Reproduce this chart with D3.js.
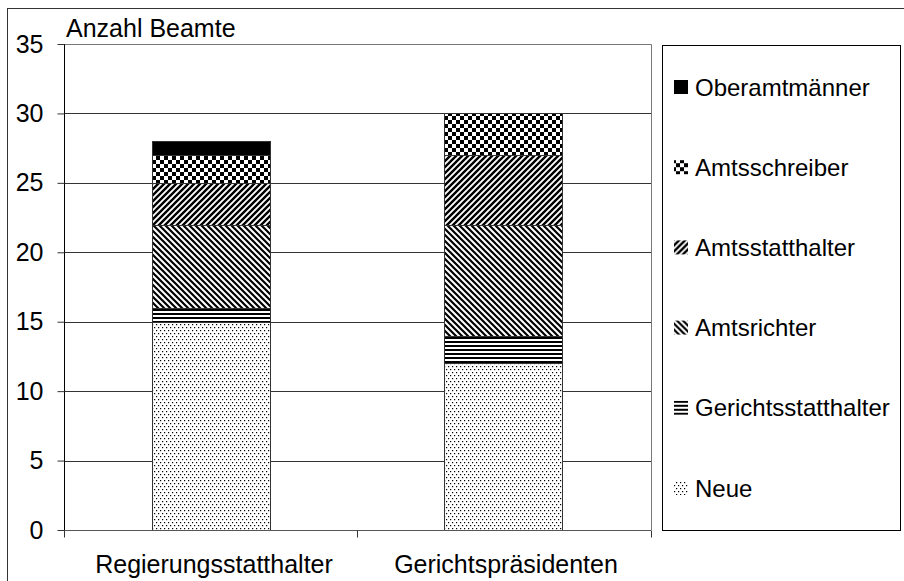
<!DOCTYPE html>
<html><head><meta charset="utf-8">
<script src="https://cdn.jsdelivr.net/npm/d3@7"></script>
<style>html,body{margin:0;padding:0;background:#fff;}svg{display:block;font-family:"Liberation Sans",Arial,sans-serif;}</style>
</head><body>
<svg id="c" width="904" height="581"></svg>
<script>
const categories = ["Regierungsstatthalter", "Gerichtspräsidenten"];
const seriesNames = ["Neue", "Gerichtsstatthalter", "Amtsrichter", "Amtsstatthalter", "Amtsschreiber", "Oberamtmänner"];
const neue = [15, 12];
const gerichtsstatthalter = [1, 2];
const amtsrichter = [6, 8];
const amtsstatthalter = [3, 5];
const amtsschreiber = [2, 3];
const oberamtmaenner = [1, 0];
const yTicks = [0, 5, 10, 15, 20, 25, 30, 35];
const yTitle = "Anzahl Beamte";

const seriesValues = [neue, gerichtsstatthalter, amtsrichter, amtsstatthalter, amtsschreiber, oberamtmaenner];
const table = categories.map((c, i) => {
  const o = {cat: c};
  seriesNames.forEach((s, j) => o[s] = seriesValues[j][i]);
  return o;
});

const svg = d3.select("#c");
const defs = svg.append("defs");
const fs = 25, lfs = 24;

function pat(id, w, h) {
  return defs.append("pattern").attr("id", id).attr("patternUnits", "userSpaceOnUse")
    .attr("width", w).attr("height", h);
}
// Neue: sparse dots
let p = pat("p0", 4, 6);
p.append("rect").attr("width", 4).attr("height", 6).attr("fill", "#fff");
p.append("rect").attr("x", 0).attr("y", 0).attr("width", 1.2).attr("height", 1.2).attr("fill", "#000");
p.append("rect").attr("x", 2).attr("y", 3).attr("width", 1.2).attr("height", 1.2).attr("fill", "#000");
// Gerichtsstatthalter: horizontal lines
p = pat("p1", 8, 4);
p.append("rect").attr("width", 8).attr("height", 4).attr("fill", "#fff");
p.append("rect").attr("y", 1).attr("width", 8).attr("height", 2).attr("fill", "#000");
// Amtsrichter: backslash diagonal
p = pat("p2", 6, 6);
p.append("rect").attr("width", 6).attr("height", 6).attr("fill", "#fff");
p.append("path").attr("d", "M-1,-1 L7,7 M-4,2 L2,8 M4,-2 L8,2").attr("stroke", "#000").attr("stroke-width", 2.2);
// Amtsstatthalter: forward diagonal
p = pat("p3", 6, 6);
p.append("rect").attr("width", 6).attr("height", 6).attr("fill", "#fff");
p.append("path").attr("d", "M-1,7 L7,-1 M-4,4 L2,-2 M4,8 L8,4").attr("stroke", "#000").attr("stroke-width", 2.4);
// Amtsschreiber: checker
p = pat("p4", 8, 8);
p.append("rect").attr("width", 8).attr("height", 8).attr("fill", "#fff");
p.append("rect").attr("width", 4).attr("height", 4).attr("fill", "#000");
p.append("rect").attr("x", 4).attr("y", 4).attr("width", 4).attr("height", 4).attr("fill", "#000");
const fills = ["url(#p0)", "url(#p1)", "url(#p2)", "url(#p3)", "url(#p4)", "#000"];

// outer frame
svg.append("rect").attr("x", 7.5).attr("y", 8.5).attr("width", 910).attr("height", 590)
  .attr("fill", "none").attr("stroke", "#333").attr("stroke-width", 1);

const L = 64, R = 651, T = 44, B = 530;
const x = d3.scaleBand().domain(categories).range([65, 649]).padding(0);
const y = d3.scaleLinear().domain([0, 35]).range([B, T]);

// plot area box
svg.append("path").attr("d", `M${L},${T + 0.5}H${R + 0.5}V${B}`).attr("fill", "none").attr("stroke", "#777");

// gridlines
svg.append("g").selectAll("line").data(yTicks.filter(t => t > 0 && t < 35)).join("line")
  .attr("x1", L).attr("x2", R).attr("y1", d => Math.round(y(d)) + 0.5).attr("y2", d => Math.round(y(d)) + 0.5)
  .attr("stroke", "#333");

// stacked bars
const stack = d3.stack().keys(seriesNames)(table);
const bw = 118;
svg.append("g").selectAll("g").data(stack).join("g")
  .attr("fill", (d, i) => fills[i])
  .selectAll("rect").data(d => d.filter(v => v[1] - v[0] > 0)).join("rect")
  .attr("x", d => Math.round(x(d.data.cat) + (x.bandwidth() - bw) / 2) + 0.5)
  .attr("width", bw)
  .attr("y", d => Math.round(y(d[1])) + 0.5)
  .attr("height", d => Math.round(y(d[0])) - Math.round(y(d[1])))
  .attr("stroke", "#333").attr("stroke-width", 1);

// y axis
const yAxis = d3.axisLeft(y).tickValues(yTicks).tickSize(7).tickPadding(14);
const gy = svg.append("g").attr("transform", `translate(${L + 0.5},0)`).call(yAxis);
gy.select(".domain").attr("d", `M0,${T}V${B + 7}`).attr("stroke", "#000");
gy.selectAll(".tick line").attr("stroke", "#333");
gy.selectAll(".tick text").attr("font-size", fs).attr("font-family", "Liberation Sans, Arial, sans-serif").attr("fill", "#000");

// x axis
const gx = svg.append("g").attr("transform", `translate(0,${B + 0.5})`);
gx.append("line").attr("x1", L).attr("x2", R).attr("stroke", "#555");
const xb = [L, 357, R];
gx.selectAll(".xt").data(xb).join("line").attr("class", "xt")
  .attr("x1", d => Math.round(d) + 0.5).attr("x2", d => Math.round(d) + 0.5).attr("y1", 0).attr("y2", 7).attr("stroke", "#333");
gx.selectAll("text").data(categories).join("text")
  .attr("x", d => x(d) + x.bandwidth() / 2 + 3).attr("y", 42)
  .attr("text-anchor", "middle").attr("font-size", fs).text(d => d);

// y title
svg.append("text").attr("x", 66).attr("y", 37).attr("font-size", fs).text(yTitle);

// legend
const lg = svg.append("g");
lg.append("rect").attr("x", 662.5).attr("y", 45.5).attr("width", 238).attr("height", 485)
  .attr("fill", "#fff").attr("stroke", "#000");
const legendOrder = seriesNames.map((s, i) => i).reverse();
const items = lg.selectAll("g.it").data(legendOrder).join("g").attr("class", "it")
  .attr("transform", (d, k) => `translate(0,${87 + k * 80.2})`);
items.append("rect").attr("x", 674).attr("y", -7).attr("width", 14).attr("height", 14)
  .attr("fill", d => fills[d]);
items.append("text").attr("x", 695).attr("y", 0).attr("dy", "0.36em").attr("font-size", lfs)
  .text(d => seriesNames[d]);
</script>
</body></html>
